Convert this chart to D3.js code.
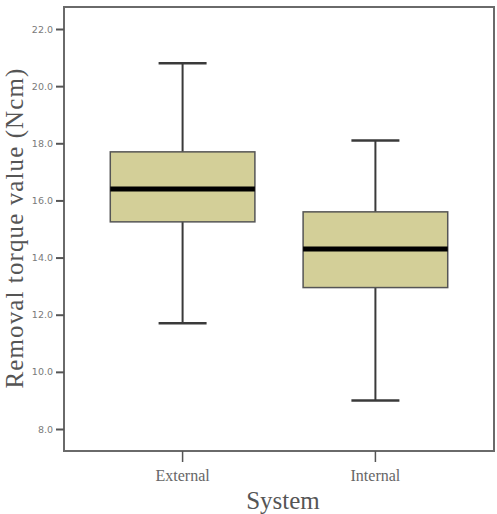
<!DOCTYPE html>
<html>
<head>
<meta charset="utf-8">
<script src="https://cdn.jsdelivr.net/npm/d3@7"></script>
<style>
  body { margin: 0; background: #fff; }
  svg { display: block; }
</style>
</head>
<body>
<script>
// data
const systems = ["External", "Internal"];
const whiskerLow = [11.7, 9.0];
const q1 = [15.25, 12.95];
const median = [16.4, 14.3];
const q3 = [17.7, 15.6];
const whiskerHigh = [20.8, 18.1];
const yTicks = [8, 10, 12, 14, 16, 18, 20, 22];

const W = 497, H = 514;
const frame = { left: 64, top: 7, right: 494, bottom: 451 };

const svg = d3.select("body").append("svg")
  .attr("width", W)
  .attr("height", H);

const y = d3.scaleLinear()
  .domain([7.23, 22.77])
  .range([frame.bottom, frame.top]);

const x = d3.scaleBand()
  .domain(systems)
  .range([frame.left, frame.right])
  .paddingInner(0.25)
  .paddingOuter(0.24);

const boxes = systems.map((s, i) => ({
  name: s, lo: whiskerLow[i], q1: q1[i], med: median[i], q3: q3[i], hi: whiskerHigh[i]
}));

// boxes
const g = svg.append("g");
const cx = (d) => x(d.name) + x.bandwidth() / 2;
const capHalf = 24;

g.selectAll("line.stem")
  .data(boxes)
  .join("line")
  .attr("class", "stem")
  .attr("x1", cx).attr("x2", cx)
  .attr("y1", (d) => y(d.hi)).attr("y2", (d) => y(d.lo))
  .attr("stroke", "#3a3a3a")
  .attr("stroke-width", 2);

["hi", "lo"].forEach((k) => {
  g.selectAll("line.cap-" + k)
    .data(boxes)
    .join("line")
    .attr("class", "cap-" + k)
    .attr("x1", (d) => cx(d) - capHalf).attr("x2", (d) => cx(d) + capHalf)
    .attr("y1", (d) => y(d[k])).attr("y2", (d) => y(d[k]))
    .attr("stroke", "#3a3a3a")
    .attr("stroke-width", 2.5);
});

g.selectAll("rect.box")
  .data(boxes)
  .join("rect")
  .attr("class", "box")
  .attr("x", (d) => x(d.name))
  .attr("width", x.bandwidth())
  .attr("y", (d) => y(d.q3))
  .attr("height", (d) => y(d.q1) - y(d.q3))
  .attr("fill", "#d3cf98")
  .attr("stroke", "#555")
  .attr("stroke-width", 1.5);

g.selectAll("line.median")
  .data(boxes)
  .join("line")
  .attr("class", "median")
  .attr("x1", (d) => x(d.name)).attr("x2", (d) => x(d.name) + x.bandwidth())
  .attr("y1", (d) => y(d.med)).attr("y2", (d) => y(d.med))
  .attr("stroke", "#000")
  .attr("stroke-width", 5);

// frame
svg.append("rect")
  .attr("x", frame.left).attr("y", frame.top)
  .attr("width", frame.right - frame.left)
  .attr("height", frame.bottom - frame.top)
  .attr("fill", "none")
  .attr("stroke", "#6a6a6a")
  .attr("stroke-width", 2);

// y axis
const yAxis = svg.append("g")
  .attr("transform", `translate(${frame.left},0)`)
  .call(d3.axisLeft(y).tickValues(yTicks).tickFormat(d3.format(".1f")).tickSize(8).tickPadding(3));
yAxis.select(".domain").remove();
yAxis.selectAll("line").attr("stroke", "#555").attr("stroke-width", 2);
yAxis.selectAll("text")
  .attr("fill", "#7a7a7a")
  .style("font-family", "'DejaVu Sans', sans-serif")
  .style("font-size", "9.5px");

// x axis
const xAxis = svg.append("g")
  .attr("transform", `translate(0,${frame.bottom})`)
  .call(d3.axisBottom(x).tickSize(11).tickPadding(6));
xAxis.select(".domain").remove();
xAxis.selectAll("line").attr("stroke", "#555").attr("stroke-width", 1.5);
xAxis.selectAll("text")
  .attr("fill", "#666")
  .attr("dy", null)
  .attr("y", 30)
  .style("font-family", "'Liberation Serif', serif")
  .style("font-size", "16px");

// titles
svg.append("text")
  .attr("x", 283).attr("y", 509)
  .attr("text-anchor", "middle")
  .attr("fill", "#555")
  .style("font-family", "'Liberation Serif', serif")
  .style("font-size", "25px")
  .text("System");

svg.append("text")
  .attr("transform", "translate(23,228) rotate(-90)")
  .attr("text-anchor", "middle")
  .attr("fill", "#555")
  .style("font-family", "'Liberation Serif', serif")
  .style("font-size", "25px")
  .style("letter-spacing", "1.1px")
  .text("Removal torque value (Ncm)");
</script>
</body>
</html>
